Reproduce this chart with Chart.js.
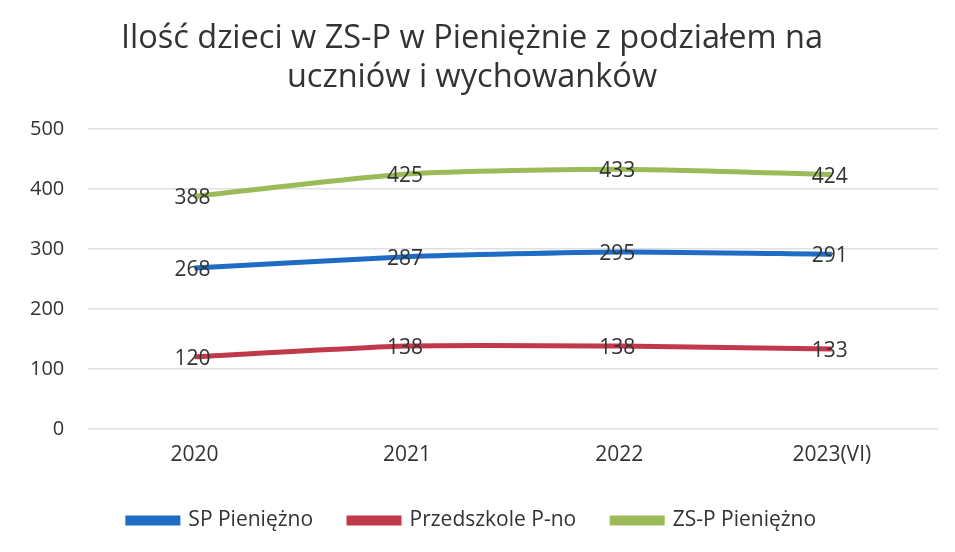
<!DOCTYPE html>
<html>
<head>
<meta charset="utf-8">
<script src="https://cdn.jsdelivr.net/npm/chart.js@4"></script>
<style>
  html, body { margin: 0; padding: 0; background: #fff; }
  #wrap { width: 955px; height: 552px; }
</style>
</head>
<body>
<div id="wrap"><canvas id="wykres"></canvas></div>
<script>
const lata = ['2020', '2021', '2022', '2023(VI)'];
const sp = [268, 287, 295, 291];
const przedszkole = [120, 138, 138, 133];
const zsp = [388, 425, 433, 424];
const tickiY = [0, 100, 200, 300, 400, 500];

const czcionka = '"Open Sans", "DejaVu Sans", sans-serif';

// etykiety wartości na środku punktów
const etykiety = {
  id: 'etykiety',
  afterDatasetsDraw(chart) {
    const ctx = chart.ctx;
    ctx.save();
    ctx.font = '21px ' + czcionka;
    ctx.fillStyle = '#333';
    ctx.textAlign = 'center';
    ctx.textBaseline = 'middle';
    chart.data.datasets.forEach((ds, i) => {
      chart.getDatasetMeta(i).data.forEach((pt, j) => {
        ctx.fillText(ds.data[j], pt.x - 2, pt.y + 2);
      });
    });
    ctx.restore();
  }
};

function seria(nazwa, dane, kolor) {
  return {
    label: nazwa,
    data: dane,
    borderColor: kolor,
    backgroundColor: kolor,
    borderWidth: 5,
    pointRadius: 0,
    tension: 0.2,
    fill: false
  };
}

new Chart(document.getElementById('wykres'), {
  type: 'line',
  data: {
    labels: lata,
    datasets: [
      seria('SP Pieniężno', sp, '#1f6cc4'),
      seria('Przedszkole P-no', przedszkole, '#c0394b'),
      seria('ZS-P Pieniężno', zsp, '#9bbb59')
    ]
  },
  options: {
    responsive: true,
    maintainAspectRatio: false,
    animation: false,
    layout: { padding: { left: 6, right: 17, top: 5, bottom: 11 } },
    plugins: {
      title: {
        display: true,
        text: ['Ilość dzieci w ZS-P w Pieniężnie z podziałem na', 'uczniów i wychowanków'],
        font: { family: czcionka, size: 32.5, weight: 'normal' },
        color: '#333',
        padding: { top: 14, bottom: 32 },
        lineHeight: 1.5
      },
      legend: {
        position: 'bottom',
        labels: {
          font: { family: czcionka, size: 21 },
          color: '#333',
          boxWidth: 50,
          boxHeight: 5,
          padding: 36
        }
      },
      tooltip: { enabled: false }
    },
    scales: {
      x: {
        offset: true,
        grid: { display: false },
        border: { display: false },
        ticks: { font: { family: czcionka, size: 21 }, color: '#333', padding: 6 }
      },
      y: {
        min: 0,
        max: 500,
        afterBuildTicks: axis => { axis.ticks = tickiY.map(v => ({ value: v })); },
        grid: { color: '#e0e0e0', lineWidth: 1.5, drawTicks: false },
        border: { display: false },
        ticks: { font: { family: czcionka, size: 20 }, color: '#333', padding: 24 }
      }
    }
  },
  plugins: [etykiety]
});
</script>
</body>
</html>
